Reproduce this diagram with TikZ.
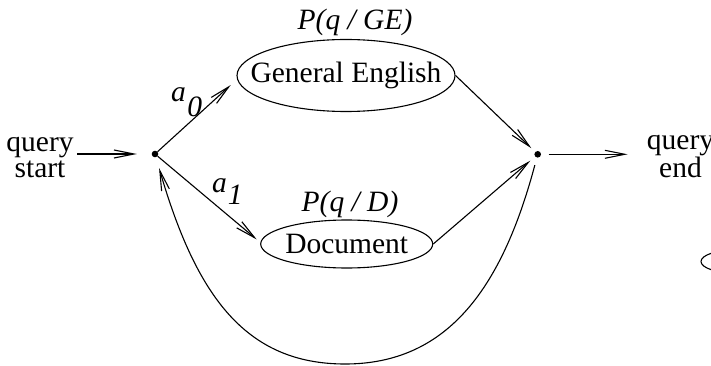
\documentclass[tikz,border=0pt]{standalone}
\usepackage{fontspec}
\setmainfont{Liberation Serif}
\usetikzlibrary{arrows.meta,shapes.geometric}
\begin{document}
\begin{tikzpicture}[x=1pt,y=-1pt,
  every node/.style={font=\fontsize{29.5}{25.5}\selectfont, inner sep=0pt},
  dotnode/.style={circle, fill=black, minimum size=6.6pt, inner sep=0pt},
  oval/.style={ellipse, draw, line width=1.1pt, inner sep=-40pt},
  conn/.style={line width=1.1pt, -{Straight Barb[length=20pt,width=8pt]}},
]
\useasboundingbox (0,0) rectangle (711,366);
\clip (0,0) rectangle (711,366);

\node[dotnode] (ldot) at (155,154) {};
\node[dotnode] (rdot) at (537.7,154.3) {};
\node[oval, minimum width=218pt, minimum height=72pt] (ge) at (346,75.5) {General English};
\node[oval, minimum width=172pt, minimum height=48pt] (doc) at (346.7,244) {Document};
\node[oval, minimum width=68pt, minimum height=23pt] (cut) at (735,261.5) {};

\node[align=center, anchor=base] (qs) at (40,177.5) {query\\start};
\node[align=center, anchor=base] (qe) at (680.5,177) {query\\end};

\node[anchor=base] (pge) at (355,30) {\textit{P(q / GE)}};
\node[anchor=base] (pd) at (350,211) {\textit{P(q / D)}};
\node[anchor=base west] (la0) at (171,102) {\textit{a}\hspace{1.5pt}\raisebox{-15pt}{\textit{0}}};
\node[anchor=base west] (la1) at (212,192) {\textit{a}\hspace{1pt}\raisebox{-13pt}{\textit{1}}};

\coordinate (bot) at (345,364);

\draw[conn, shorten <=3.5pt, shorten >=14.7pt] (qs.east |- ldot) -- (ldot);
\draw[conn, shorten >=8.5pt] (ldot) -- (ge.182);
\draw[conn, shorten >=4.7pt] (ldot) -- (doc.179);
\draw[conn, shorten >=5.3pt] (ge.east) -- (rdot);
\draw[conn, shorten >=6.2pt] (doc.east) -- (rdot);
\draw[conn, shorten <=7.3pt, shorten >=19pt] (rdot) -- (qe.west |- rdot);
\draw[conn, shorten <=7.7pt, shorten >=11.1pt] (rdot) .. controls (501,292) and (445,364) .. (bot) .. controls (245,364) and (196,295) .. (ldot);
\end{tikzpicture}
\end{document}
